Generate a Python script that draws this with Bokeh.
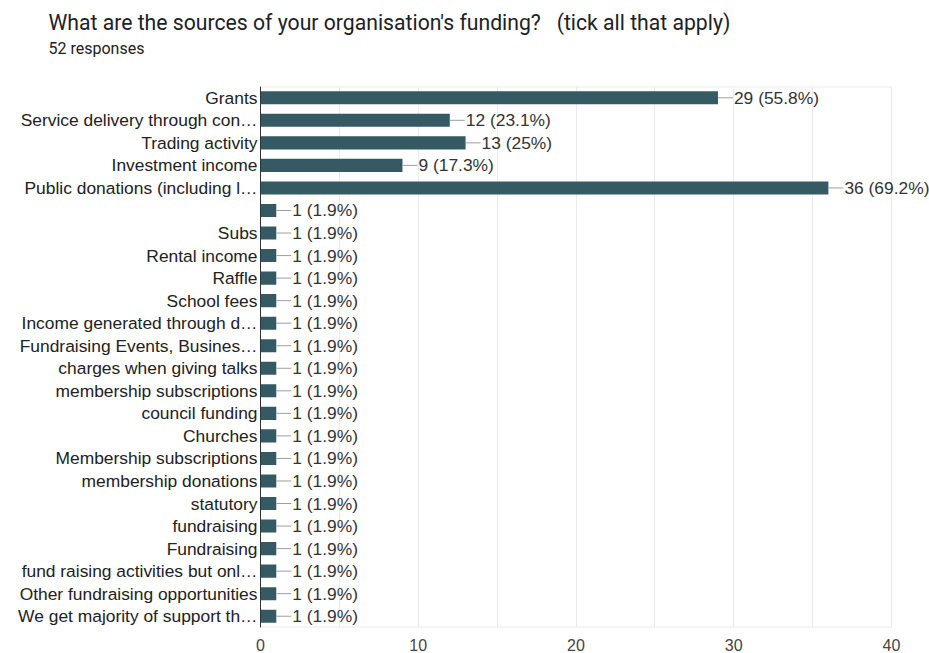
from bokeh.plotting import figure
from bokeh.models import Range1d, FixedTicker, ColumnDataSource, LabelSet, Title
from bokeh.core.properties import value
from bokeh.embed import file_html
from bokeh.resources import INLINE

title_text = "What are the sources of your organisation's funding?\u00a0\u00a0\u00a0(tick all that apply)"
subtitle_text = "52 responses"
total_responses = 52

categories = [
    "Grants",
    "Service delivery through con\u2026",
    "Trading activity",
    "Investment income",
    "Public donations (including l\u2026",
    "",
    "Subs",
    "Rental income",
    "Raffle",
    "School fees",
    "Income generated through d\u2026",
    "Fundraising Events, Busines\u2026",
    "charges when giving talks",
    "membership subscriptions",
    "council funding",
    "Churches",
    "Membership subscriptions",
    "membership donations",
    "statutory",
    "fundraising",
    "Fundraising",
    "fund raising activities but onl\u2026",
    "Other fundraising opportunities",
    "We get majority of support th\u2026",
]
counts = [29, 12, 13, 9, 36, 1, 1, 1, 1, 1, 1, 1, 1, 1, 1, 1, 1, 1, 1, 1, 1, 1, 1, 1]
x_ticks = [0, 10, 20, 30, 40]
x_minor = [5, 15, 25, 35]

BAR = "#355a63"
GRID = "#ebebeb"
LEADER = 0.95  # leader length in data units
FONT = "Liberation Sans"

W, H = 929, 653
FRAME_L, FRAME_R = 260, 891        # where 0 and 40 sit on the page
FRAME_T, FRAME_B = 86, 627
x_max = x_ticks[-1]
# the drawing area runs on to the right edge so the value labels are not clipped
x_end = x_max * (W - FRAME_L) / (FRAME_R - FRAME_L)

idx = list(range(len(categories)))
labels = [f"{c} ({round(c / total_responses * 100, 1):g}%)" for c in counts]
src = ColumnDataSource(dict(
    y=idx, right=counts, lead=[c + LEADER for c in counts], label=labels))

y_bottom = len(categories) - 0.5
y_top = -0.5
p = figure(width=W, height=H, output_backend="svg", toolbar_location=None,
           x_range=Range1d(0, x_end), y_range=Range1d(y_bottom, y_top),
           min_border_left=FRAME_L, min_border_right=0, min_border_top=FRAME_T,
           min_border_bottom=H - FRAME_B, background_fill_color="white",
           border_fill_color="white", outline_line_color=None)

# frame border (top, bottom) limited to the 0..40 plotting area
p.segment(x0=[0, 0], x1=[x_max, x_max], y0=[y_top, y_bottom], y1=[y_top, y_bottom],
          line_color=GRID, line_width=2)

p.hbar(y="y", left=0, right="right", height=0.58, fill_color=BAR,
       line_color=None, source=src)
p.segment(x0="right", x1="lead", y0="y", y1="y", line_color="#9e9e9e",
          line_width=1, source=src)
p.add_layout(LabelSet(x="lead", y="y", text="label", x_offset=1, source=src,
                      text_baseline="middle", text_font_size=value("17.4px"),
                      text_font=value(FONT), text_color="#333333"))

# axes
xa = p.xaxis[0]
xa.ticker = FixedTicker(ticks=x_ticks, minor_ticks=x_minor)
xa.axis_line_color = None
xa.major_tick_line_color = None
xa.minor_tick_line_color = None
xa.major_tick_out = 0
xa.minor_tick_out = 0
xa.major_label_standoff = 11
xa.major_label_text_line_height = 0.7
xa.major_label_text_font = FONT
xa.major_label_text_font_size = "16px"
xa.major_label_text_color = "#444444"

ya = p.yaxis[0]
ya.ticker = FixedTicker(ticks=idx)
ya.major_label_overrides = {i: c for i, c in zip(idx, categories)}
ya.axis_line_color = "#333333"
ya.major_tick_line_color = None
ya.minor_tick_line_color = None
ya.major_tick_out = 0
ya.minor_tick_out = 0
ya.major_label_standoff = 3
ya.major_label_text_font = FONT
ya.major_label_text_font_size = "17.4px"
ya.major_label_text_color = "#222222"

p.xgrid.grid_line_color = GRID
p.xgrid.minor_grid_line_color = GRID
p.ygrid.grid_line_color = None

p.add_layout(Title(text=subtitle_text, text_font="Roboto", text_font_size="16px",
                   text_font_style="normal", text_color="#202124", align="left",
                   offset=48 - FRAME_L, standoff=58), "above")
p.add_layout(Title(text=title_text, text_font="Roboto", text_font_size="21.2px",
                   text_font_style="normal", text_color="#202124", align="left",
                   offset=48 - FRAME_L, standoff=-54), "above")

open("out.html", "w").write(file_html(p, INLINE))
